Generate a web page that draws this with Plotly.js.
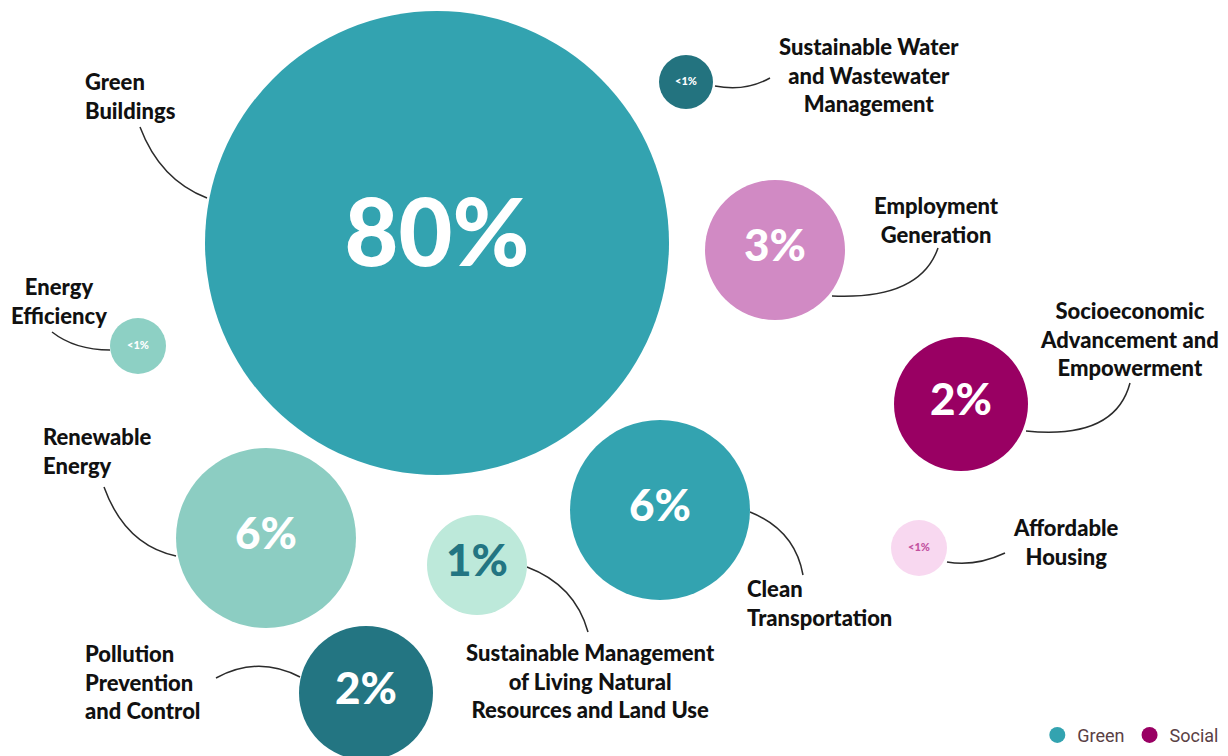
<!DOCTYPE html>
<html>
<head>
<meta charset="utf-8">
<script src="https://cdn.plot.ly/plotly-3.0.1.min.js"></script>
<style>
  html, body { margin: 0; padding: 0; background: #ffffff; }
  #chart { width: 1228px; height: 756px; }
</style>
</head>
<body>
<div id="chart"></div>
<script>
// Use-of-proceeds categories and their share of allocations
const categories = [
  'Green Buildings',
  'Sustainable Water and Wastewater Management',
  'Employment Generation',
  'Socioeconomic Advancement and Empowerment',
  'Energy Efficiency',
  'Renewable Energy',
  'Clean Transportation',
  'Sustainable Management of Living Natural Resources and Land Use',
  'Pollution Prevention and Control',
  'Affordable Housing'
];
const shareLabels = ['80%', '<1%', '3%', '2%', '<1%', '6%', '6%', '1%', '2%', '<1%'];
const groups = ['Green', 'Green', 'Social', 'Social', 'Green', 'Green', 'Green', 'Green', 'Green', 'Social'];

// Multi-line captions shown beside each bubble
const captions = [
  'Green<br>Buildings',
  'Sustainable Water<br>and Wastewater<br>Management',
  'Employment<br>Generation',
  'Socioeconomic<br>Advancement and<br>Empowerment',
  'Energy<br>Efficiency',
  'Renewable<br>Energy',
  'Clean<br>Transportation',
  'Sustainable Management<br>of Living Natural<br>Resources and Land Use',
  'Pollution<br>Prevention<br>and Control',
  'Affordable<br>Housing'
];
const legendGroups = ['Green', 'Social'];

// ---- placement (axis units = pixels, y grows downward) ----
const bubbleX = [437, 686, 775, 961, 138, 266, 660, 477, 366, 919];
const bubbleY = [243, 82, 250, 404, 346, 538, 510, 565, 693, 548];
const bubbleR = [232, 27, 70, 67, 28, 90, 90, 50, 67, 28];
const bubbleFill = ['#33a3b0', '#23737f', '#d18ac4', '#990063', '#8dd0c4',
                    '#8ccdc2', '#33a3b0', '#bde9da', '#237582', '#f8d8f0'];
const shareFont = [93, 11, 44, 44, 11, 44, 44, 44, 44, 11];
const shareColor = ['#ffffff', '#ffffff', '#ffffff', '#ffffff', '#ffffff',
                    '#ffffff', '#ffffff', '#237582', '#ffffff', '#c2509f'];

const captionX = [83, 869, 936, 1129, 59, 41, 745, 590, 83, 1066];
const captionY = [96, 75, 220, 339, 301, 451, 603, 681, 682, 542];
const captionAlign = ['left', 'center', 'center', 'center', 'center',
                      'left', 'left', 'center', 'left', 'center'];

// Leader lines from caption to bubble
const leaders = [
  'M 140 127 Q 160 180 207 198',
  'M 715 86 Q 745 92 770 78',
  'M 832 296 Q 920 300 938 248',
  'M 1026 431 Q 1115 440 1130 383',
  'M 52 332 Q 75 350 110 350',
  'M 104 487 Q 125 545 176 556',
  'M 750 512 Q 795 530 803 575',
  'M 527 567 Q 575 585 588 632',
  'M 216 678 Q 258 655 300 677',
  'M 947 562 Q 975 567 1005 553'
];

const groupColor = { Green: '#33a3b0', Social: '#990063' };

const bubbles = {
  type: 'scatter',
  mode: 'markers+text',
  x: bubbleX,
  y: bubbleY,
  text: shareLabels,
  customdata: categories,
  hovertemplate: '%{customdata}: %{text}<extra></extra>',
  textposition: 'middle center',
  textfont: { family: 'Lato, sans-serif', size: shareFont, color: shareColor, weight: 900 },
  marker: {
    size: bubbleR.map(r => 2 * r),
    sizemode: 'diameter',
    color: bubbleFill,
    opacity: 1,
    line: { width: 0 }
  },
  showlegend: false,
  cliponaxis: false
};

const legendTraces = legendGroups.map(g => ({
  type: 'scatter',
  mode: 'markers',
  x: [null],
  y: [null],
  name: g,
  marker: { color: groupColor[g], size: 19 },
  showlegend: true
}));

const annotations = captions.map((c, i) => ({
  x: captionX[i],
  y: captionY[i],
  xref: 'x',
  yref: 'y',
  text: c,
  showarrow: false,
  align: captionAlign[i],
  xanchor: captionAlign[i] === 'left' ? 'left' : 'center',
  yanchor: 'middle',
  font: { family: 'Lato, sans-serif', size: 22, color: '#111111', weight: 900 }
}));

const shapes = leaders.map(p => ({
  type: 'path',
  path: p,
  xref: 'x',
  yref: 'y',
  line: { color: '#2b2b2b', width: 1.5 },
  layer: 'below'
}));

const layout = {
  width: 1228,
  height: 756,
  margin: { l: 0, r: 0, t: 0, b: 0 },
  paper_bgcolor: '#ffffff',
  plot_bgcolor: '#ffffff',
  xaxis: { range: [0, 1228], visible: false, fixedrange: true },
  yaxis: { range: [756, 0], visible: false, fixedrange: true },
  showlegend: true,
  legend: {
    orientation: 'h',
    x: 0.997,
    xanchor: 'right',
    y: 0.003,
    yanchor: 'bottom',
    font: { family: 'Roboto, sans-serif', size: 18, color: '#5a4044' },
    bgcolor: 'rgba(0,0,0,0)'
  },
  annotations: annotations,
  shapes: shapes
};

Plotly.newPlot('chart', [bubbles].concat(legendTraces), layout, { displayModeBar: false, staticPlot: true });
</script>
</body>
</html>
